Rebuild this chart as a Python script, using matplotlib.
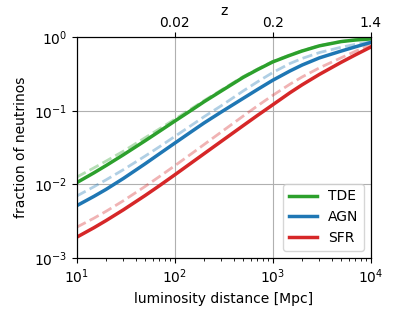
import matplotlib
matplotlib.use('Agg')
import matplotlib.pyplot as plt

# luminosity distance [Mpc]
dl = [10, 15, 20, 30, 50, 70, 100, 150, 200, 300, 500, 700,
      1000, 1500, 2000, 3000, 5000, 7000, 10000]

# fraction of neutrinos, solid curves
tde = [0.0105, 0.0143, 0.018, 0.0252, 0.0391, 0.0526, 0.0722, 0.103, 0.133,
       0.1865, 0.285, 0.363, 0.462, 0.569, 0.652, 0.766, 0.875, 0.92, 0.951]
agn = [0.0051, 0.00684, 0.00853, 0.012, 0.019, 0.026, 0.0362, 0.0526, 0.0684,
       0.0966, 0.1476, 0.195, 0.26, 0.348, 0.42, 0.525, 0.65, 0.743, 0.851]
sfr = [0.0019, 0.00256, 0.00321, 0.00449, 0.00703, 0.00957, 0.0134, 0.0198,
       0.0261, 0.0385, 0.0628, 0.0865, 0.1205, 0.176, 0.226, 0.313, 0.457,
       0.578, 0.736]

# dashed (faint) curves
tde_d = [0.0125, 0.0167, 0.0207, 0.0282, 0.043, 0.0568, 0.0765, 0.108, 0.138,
         0.192, 0.292, 0.37, 0.47, 0.576, 0.658, 0.771, 0.879, 0.924, 0.955]
agn_d = [0.0069, 0.00925, 0.0115, 0.0158, 0.0242, 0.0324, 0.0446, 0.0641,
         0.0832, 0.1175, 0.186, 0.248, 0.331, 0.44, 0.516, 0.62, 0.733, 0.802,
         0.867]
sfr_d = [0.0026, 0.00345, 0.00429, 0.00597, 0.00935, 0.01274, 0.01782, 0.0263,
         0.0348, 0.0516, 0.0847, 0.1167, 0.162, 0.23, 0.289, 0.384, 0.527,
         0.646, 0.794]

z_pos = [100, 1000, 10000]
z_lab = ['0.02', '0.2', '1.4']

fig = plt.figure(figsize=(3.99, 3.19), dpi=100)
ax = fig.add_axes([0.192, 0.192, 0.737, 0.691])

ax.plot(dl, tde_d, '--', color='tab:green', alpha=0.35, lw=2)
ax.plot(dl, agn_d, '--', color='tab:blue', alpha=0.35, lw=2)
ax.plot(dl, sfr_d, '--', color='tab:red', alpha=0.35, lw=2)
ax.plot(dl, tde, color='tab:green', lw=2.5, label='TDE')
ax.plot(dl, agn, color='tab:blue', lw=2.5, label='AGN')
ax.plot(dl, sfr, color='tab:red', lw=2.5, label='SFR')

ax.set_xscale('log')
ax.set_yscale('log')
ax.set_xlim(10, 1e4)
ax.set_ylim(1e-3, 1)
ax.grid(True, which='major', color='#b0b0b0', lw=0.8)
ax.set_xlabel('luminosity distance [Mpc]', fontsize=10)
ax.set_ylabel('fraction of neutrinos', fontsize=10)
ax.tick_params(labelsize=10)
ax.legend(loc='lower right', fontsize=10)

ax2 = ax.twiny()
ax2.set_xscale('log')
ax2.set_xlim(ax.get_xlim())
ax2.set_xticks(z_pos)
ax2.set_xticklabels(z_lab)
ax2.minorticks_off()
ax2.tick_params(labelsize=10, pad=1.5)
ax2.set_xlabel('z', fontsize=10, labelpad=1)

fig.savefig('out.png', dpi=100)
